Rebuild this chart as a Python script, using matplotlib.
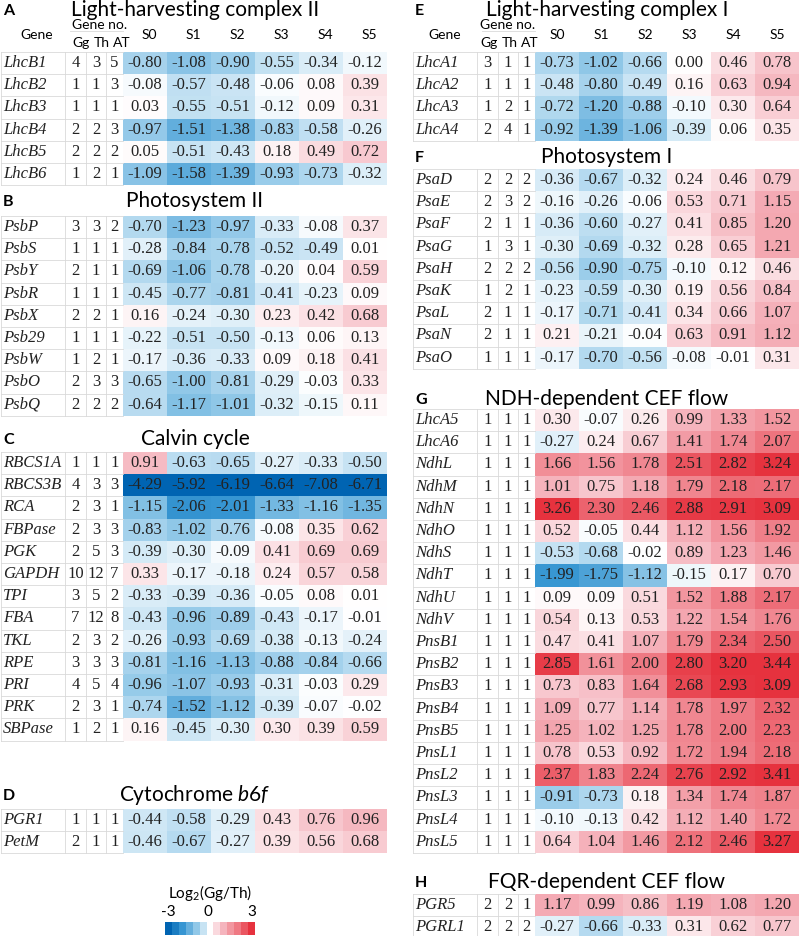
import matplotlib
matplotlib.use("Agg")
import matplotlib.pyplot as plt
import numpy as np
from matplotlib.colors import LinearSegmentedColormap, Normalize

plt.rcParams['mathtext.fontset'] = 'custom'
plt.rcParams['mathtext.rm'] = 'Lato'
plt.rcParams['mathtext.it'] = 'Lato:italic'

stages = ['S0', 'S1', 'S2', 'S3', 'S4', 'S5']
count_labels = ['Gg', 'Th', 'AT']

# --- A: light-harvesting complex II
genes_a = ['LhcB1', 'LhcB2', 'LhcB3', 'LhcB4', 'LhcB5', 'LhcB6']
counts_a = [[4, 3, 5], [1, 1, 3], [1, 1, 1], [2, 2, 3], [2, 2, 2], [1, 2, 1]]
values_a = [[-0.80, -1.08, -0.90, -0.55, -0.34, -0.12],
            [-0.08, -0.57, -0.48, -0.06, 0.08, 0.39],
            [0.03, -0.55, -0.51, -0.12, 0.09, 0.31],
            [-0.97, -1.51, -1.38, -0.83, -0.58, -0.26],
            [0.05, -0.51, -0.43, 0.18, 0.49, 0.72],
            [-1.09, -1.58, -1.39, -0.93, -0.73, -0.32]]

# --- B: photosystem II
genes_b = ['PsbP', 'PsbS', 'PsbY', 'PsbR', 'PsbX', 'Psb29', 'PsbW', 'PsbO', 'PsbQ']
counts_b = [[3, 3, 2], [1, 1, 1], [2, 1, 1], [1, 1, 1], [2, 2, 1],
            [1, 1, 1], [1, 2, 1], [2, 3, 3], [2, 2, 2]]
values_b = [[-0.70, -1.23, -0.97, -0.33, -0.08, 0.37],
            [-0.28, -0.84, -0.78, -0.52, -0.49, 0.01],
            [-0.69, -1.06, -0.78, -0.20, 0.04, 0.59],
            [-0.45, -0.77, -0.81, -0.41, -0.23, 0.09],
            [0.16, -0.24, -0.30, 0.23, 0.42, 0.68],
            [-0.22, -0.51, -0.50, -0.13, 0.06, 0.13],
            [-0.17, -0.36, -0.33, 0.09, 0.18, 0.41],
            [-0.65, -1.00, -0.81, -0.29, -0.03, 0.33],
            [-0.64, -1.17, -1.01, -0.32, -0.15, 0.11]]

# --- C: Calvin cycle
genes_c = ['RBCS1A', 'RBCS3B', 'RCA', 'FBPase', 'PGK', 'GAPDH', 'TPI',
           'FBA', 'TKL', 'RPE', 'PRI', 'PRK', 'SBPase']
counts_c = [[1, 1, 1], [4, 3, 3], [2, 3, 1], [2, 3, 3], [2, 5, 3], [10, 12, 7],
            [3, 5, 2], [7, 12, 8], [2, 3, 2], [3, 3, 3], [4, 5, 4], [2, 3, 1], [1, 2, 1]]
values_c = [[0.91, -0.63, -0.65, -0.27, -0.33, -0.50],
            [-4.29, -5.92, -6.19, -6.64, -7.08, -6.71],
            [-1.15, -2.06, -2.01, -1.33, -1.16, -1.35],
            [-0.83, -1.02, -0.76, -0.08, 0.35, 0.62],
            [-0.39, -0.30, -0.09, 0.41, 0.69, 0.69],
            [0.33, -0.17, -0.18, 0.24, 0.57, 0.58],
            [-0.33, -0.39, -0.36, -0.05, 0.08, 0.01],
            [-0.43, -0.96, -0.89, -0.43, -0.17, -0.01],
            [-0.26, -0.93, -0.69, -0.38, -0.13, -0.24],
            [-0.81, -1.16, -1.13, -0.88, -0.84, -0.66],
            [-0.96, -1.07, -0.93, -0.31, -0.03, 0.29],
            [-0.74, -1.52, -1.12, -0.39, -0.07, -0.02],
            [0.16, -0.45, -0.30, 0.30, 0.39, 0.59]]

# --- D: cytochrome b6f
genes_d = ['PGR1', 'PetM']
counts_d = [[1, 1, 1], [2, 1, 1]]
values_d = [[-0.44, -0.58, -0.29, 0.43, 0.76, 0.96],
            [-0.46, -0.67, -0.27, 0.39, 0.56, 0.68]]

# --- E: light-harvesting complex I
genes_e = ['LhcA1', 'LhcA2', 'LhcA3', 'LhcA4']
counts_e = [[3, 1, 1], [1, 1, 1], [1, 2, 1], [2, 4, 1]]
values_e = [[-0.73, -1.02, -0.66, 0.00, 0.46, 0.78],
            [-0.48, -0.80, -0.49, 0.16, 0.63, 0.94],
            [-0.72, -1.20, -0.88, -0.10, 0.30, 0.64],
            [-0.92, -1.39, -1.06, -0.39, 0.06, 0.35]]

# --- F: photosystem I
genes_f = ['PsaD', 'PsaE', 'PsaF', 'PsaG', 'PsaH', 'PsaK', 'PsaL', 'PsaN', 'PsaO']
counts_f = [[2, 2, 2], [2, 3, 2], [2, 1, 1], [1, 3, 1], [2, 2, 2],
            [1, 2, 1], [2, 1, 1], [2, 1, 1], [1, 1, 1]]
values_f = [[-0.36, -0.67, -0.32, 0.24, 0.46, 0.79],
            [-0.16, -0.26, -0.06, 0.53, 0.71, 1.15],
            [-0.36, -0.60, -0.27, 0.41, 0.85, 1.20],
            [-0.30, -0.69, -0.32, 0.28, 0.65, 1.21],
            [-0.56, -0.90, -0.75, -0.10, 0.12, 0.46],
            [-0.23, -0.59, -0.30, 0.19, 0.56, 0.84],
            [-0.17, -0.71, -0.41, 0.34, 0.66, 1.07],
            [0.21, -0.21, -0.04, 0.63, 0.91, 1.12],
            [-0.17, -0.70, -0.56, -0.08, -0.01, 0.31]]

# --- G: NDH-dependent CEF flow
genes_g = ['LhcA5', 'LhcA6', 'NdhL', 'NdhM', 'NdhN', 'NdhO', 'NdhS', 'NdhT', 'NdhU', 'NdhV',
           'PnsB1', 'PnsB2', 'PnsB3', 'PnsB4', 'PnsB5', 'PnsL1', 'PnsL2', 'PnsL3', 'PnsL4', 'PnsL5']
counts_g = [[1, 1, 1]] * 20
values_g = [[0.30, -0.07, 0.26, 0.99, 1.33, 1.52],
            [-0.27, 0.24, 0.67, 1.41, 1.74, 2.07],
            [1.66, 1.56, 1.78, 2.51, 2.82, 3.24],
            [1.01, 0.75, 1.18, 1.79, 2.18, 2.17],
            [3.26, 2.30, 2.46, 2.88, 2.91, 3.09],
            [0.52, -0.05, 0.44, 1.12, 1.56, 1.92],
            [-0.53, -0.68, -0.02, 0.89, 1.23, 1.46],
            [-1.99, -1.75, -1.12, -0.15, 0.17, 0.70],
            [0.09, 0.09, 0.51, 1.52, 1.88, 2.17],
            [0.54, 0.13, 0.53, 1.22, 1.54, 1.76],
            [0.47, 0.41, 1.07, 1.79, 2.34, 2.50],
            [2.85, 1.61, 2.00, 2.80, 3.20, 3.44],
            [0.73, 0.83, 1.64, 2.68, 2.93, 3.09],
            [1.09, 0.77, 1.14, 1.78, 1.97, 2.32],
            [1.25, 1.02, 1.25, 1.78, 2.00, 2.23],
            [0.78, 0.53, 0.92, 1.72, 1.94, 2.18],
            [2.37, 1.83, 2.24, 2.76, 2.92, 3.41],
            [-0.91, -0.73, 0.18, 1.34, 1.74, 1.87],
            [-0.10, -0.13, 0.42, 1.12, 1.40, 1.72],
            [0.64, 1.04, 1.46, 2.12, 2.46, 3.27]]

# --- H: FQR-dependent CEF flow
genes_h = ['PGR5', 'PGRL1']
counts_h = [[2, 2, 1], [2, 2, 2]]
values_h = [[1.17, 0.99, 0.86, 1.19, 1.08, 1.20],
            [-0.27, -0.66, -0.33, 0.31, 0.62, 0.77]]

# colour key steps
legend_neg = [-3.0, -2.5, -2.0, -1.5, -1.0, -0.5]
legend_pos = [0.5, 1.0, 1.5, 2.0, 2.5, 3.0]

# layout (pixel units, y grows downward)
ROW_H = 22.2
COUNT_EDGES = [65, 86, 106, 123]
CELL_W = 44
SANS = 'Lato'
SERIF = 'Liberation Serif'
GRID = '#d9d9d9'
TXT = '#222222'

blocks = [
    # letter, title, genes, counts, values, panel x offset, title baseline, first row center
    ('A', 'Light-harvesting complex II', genes_a, counts_a, values_a, 0, 16, 63),
    ('B', 'Photosystem II', genes_b, counts_b, values_b, 0, 207, 227),
    ('C', 'Calvin cycle', genes_c, counts_c, values_c, 0, 445, 463),
    ('D', r'Cytochrome $\it{b6f}$', genes_d, counts_d, values_d, 0, 801, 820),
    ('E', 'Light-harvesting complex I', genes_e, counts_e, values_e, 412, 16, 63),
    ('F', 'Photosystem I', genes_f, counts_f, values_f, 412, 163, 180),
    ('G', 'NDH-dependent CEF flow', genes_g, counts_g, values_g, 412, 405, 420),
    ('H', 'FQR-dependent CEF flow', genes_h, counts_h, values_h, 412, 888, 905),
]

cmap = LinearSegmentedColormap.from_list('gg_th', [
    (0.0, (0 / 255, 100 / 255, 178 / 255)),
    (1 / 6, (55 / 255, 150 / 255, 210 / 255)),
    (2 / 6, (145 / 255, 200 / 255, 232 / 255)),
    (0.5, (1, 1, 1)),
    (4 / 6, (245 / 255, 180 / 255, 189 / 255)),
    (5 / 6, (239 / 255, 122 / 255, 132 / 255)),
    (1.0, (230 / 255, 50 / 255, 62 / 255)),
])
norm = Normalize(vmin=-3, vmax=3)

fig = plt.figure(figsize=(8, 9.36), dpi=100)
ax = fig.add_axes([0, 0, 1, 1])
ax.set_xlim(0, 800)
ax.set_ylim(936, 0)
ax.axis('off')


def draw_header(x0, dx):
    ax.text(x0 + 33 + dx, 35, 'Gene', family=SANS, fontsize=10, ha='center', va='center')
    ax.text(x0 + 96 + dx, 25, 'Gene no.', family=SANS, fontsize=10, ha='center', va='center')
    ax.plot([x0 + 70, x0 + 123], [31, 31], color=GRID, lw=0.6)
    for lab, cx in zip(count_labels, [77, 98, 118]):
        ax.text(x0 + cx + dx, 43, lab, family=SANS, fontsize=10, ha='center', va='center')
    for i, s in enumerate(stages):
        ax.text(x0 + 123 + CELL_W * (i + 0.5) + dx, 35, s, family=SANS, fontsize=10,
                ha='center', va='center')


draw_header(0, 4)
draw_header(412, 0)

for letter, title, genes, counts, vals, x0, title_y, row0 in blocks:
    vals = np.array(vals)
    n = len(genes)
    top = row0 - ROW_H / 2
    y_edges = top + ROW_H * np.arange(n + 1)
    x_edges = x0 + 123 + CELL_W * np.arange(len(stages) + 1)
    ax.pcolormesh(x_edges, y_edges, vals, cmap=cmap, norm=norm, shading='flat')

    ax.text(x0 + 3, title_y - 1, letter, family=SANS, fontsize=11.5, weight='bold', va='baseline')
    ax.text(x0 + 195, title_y, title, family=SANS, fontsize=15, ha='center', va='baseline')

    # light grid around gene/count columns
    for y in y_edges:
        ax.plot([x0 + 1, x0 + 123], [y, y], color=GRID, lw=0.6)
    for xe in [1] + COUNT_EDGES[:-1]:
        ax.plot([x0 + xe, x0 + xe], [y_edges[0], y_edges[-1]], color=GRID, lw=0.6)

    for r in range(n):
        cy = row0 + ROW_H * r
        ax.text(x0 + 3, cy, genes[r], family=SERIF, style='italic', fontsize=12,
                ha='left', va='center', color=TXT)
        for k in range(3):
            cx = (COUNT_EDGES[k] + COUNT_EDGES[k + 1]) / 2
            ax.text(x0 + cx, cy, str(counts[r][k]), family=SERIF, fontsize=12,
                    ha='center', va='center', color=TXT)
        for c in range(len(stages)):
            cx = (x_edges[c] + x_edges[c + 1]) / 2
            ax.text(cx, cy, f'{vals[r, c]:.2f}', family=SERIF, fontsize=12,
                    ha='center', va='center', color=TXT)

# colour key
ax.text(210, 893, r'Log$_2$(Gg/Th)', family=SANS, fontsize=11, ha='center', va='center')
for lab, lx in zip(['-3', '0', '3'], [168, 208, 252]):
    ax.text(lx, 912, lab, family=SANS, fontsize=11, ha='center', va='center')
key_neg_x = 165 + 7 * np.arange(len(legend_neg) + 1)
key_pos_x = 213 + 7 * np.arange(len(legend_pos) + 1)
ax.pcolormesh(key_neg_x, [922, 935], [legend_neg], cmap=cmap, norm=norm)
ax.pcolormesh(key_pos_x, [922, 935], [legend_pos], cmap=cmap, norm=norm)

fig.savefig('out.png', dpi=100)
